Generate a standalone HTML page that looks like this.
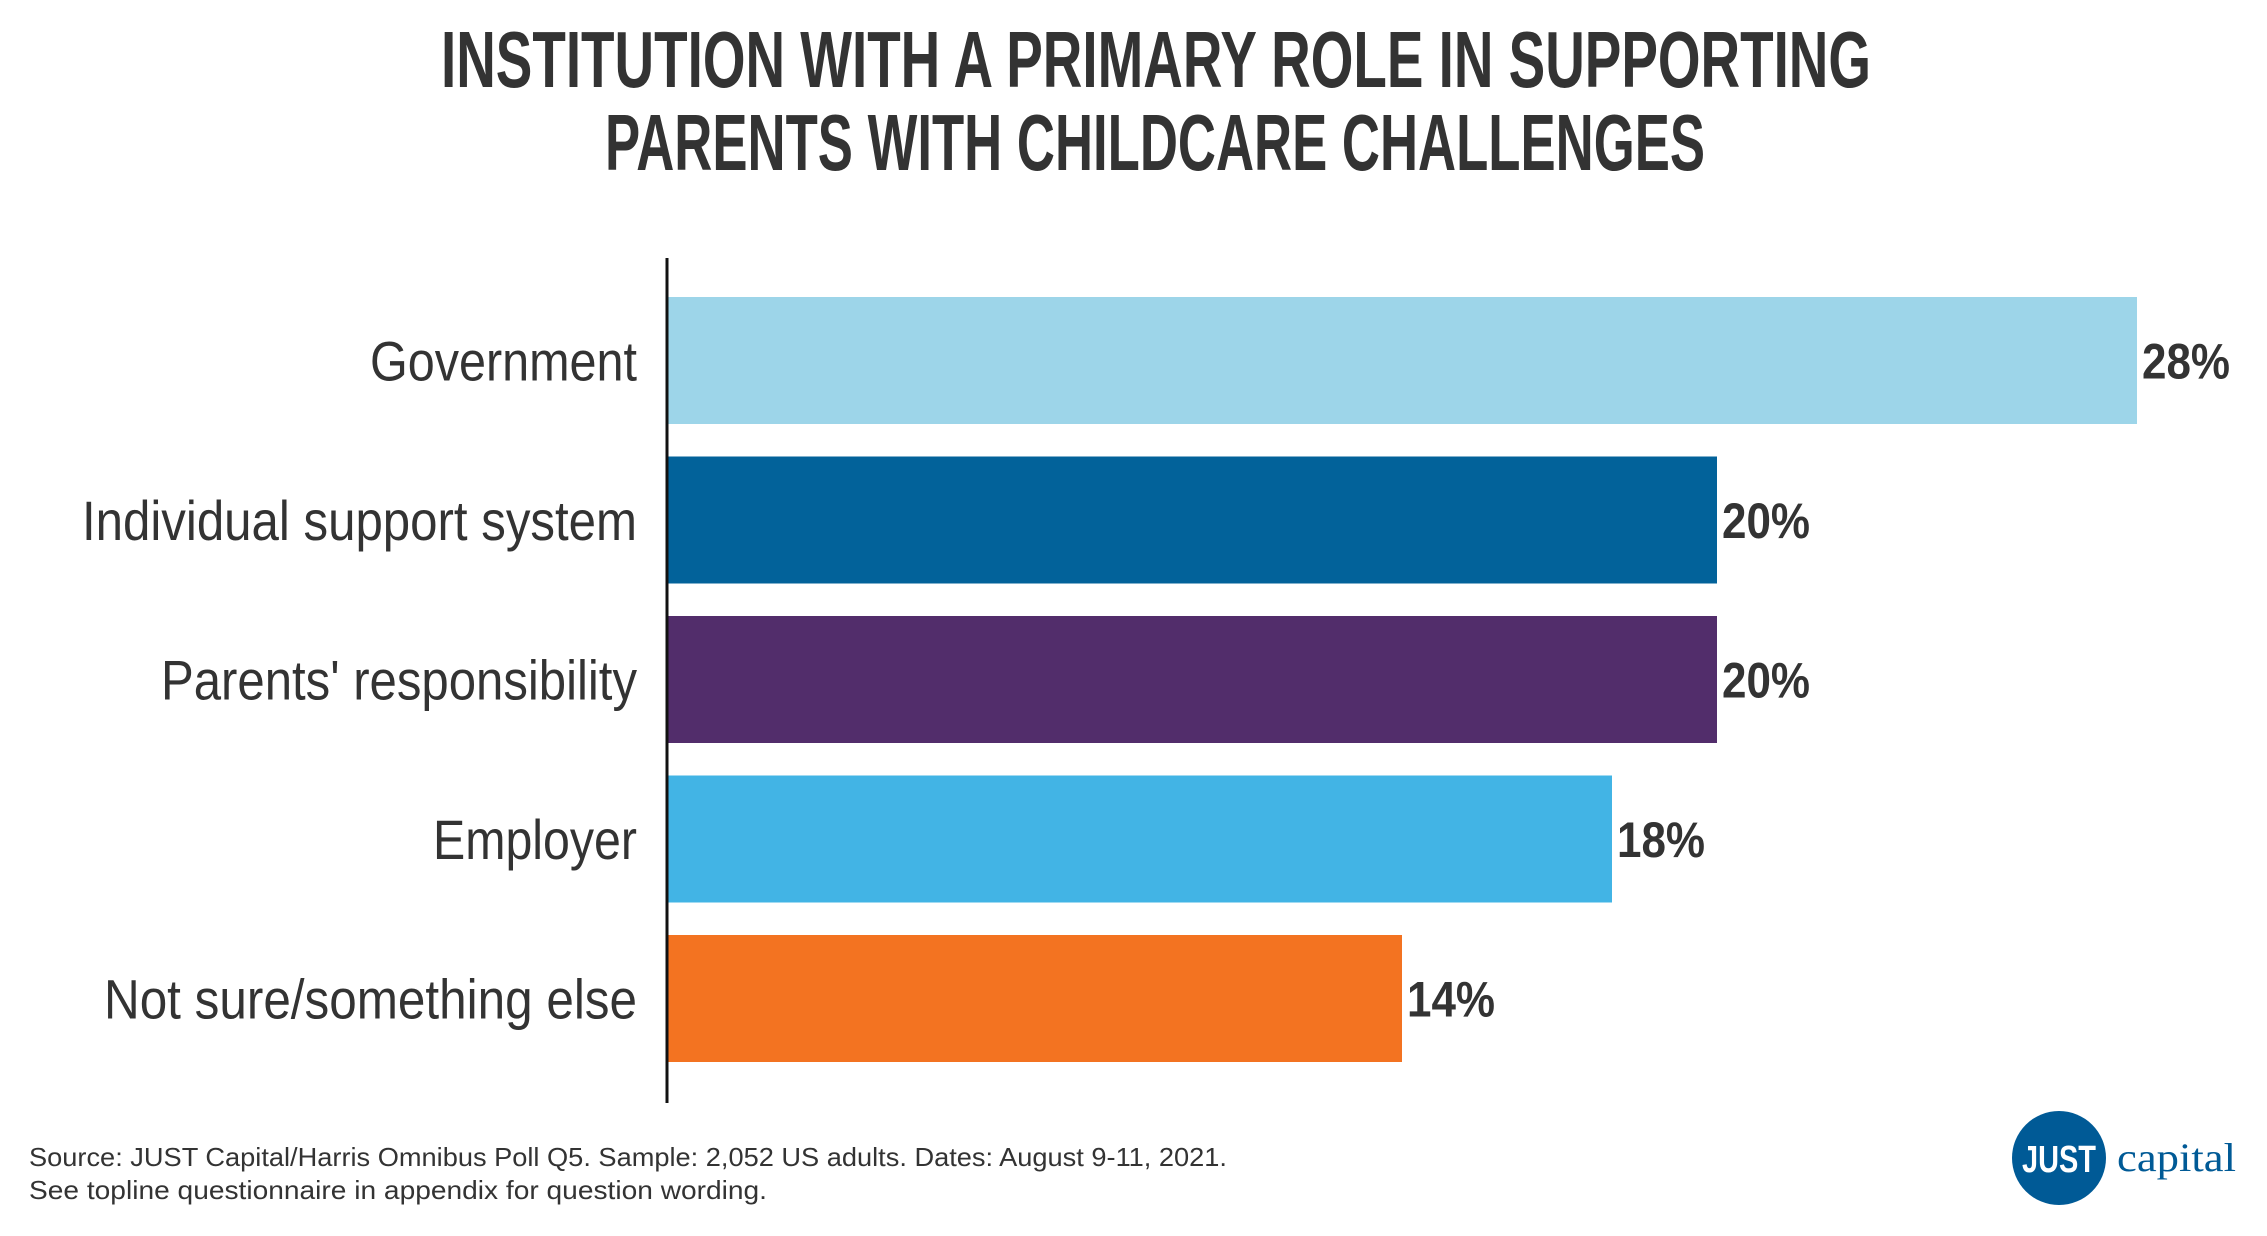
<!DOCTYPE html>
<html><head><meta charset="utf-8"><style>
html,body{margin:0;padding:0;background:#fff;}
svg{display:block;}
</style></head><body>
<svg id="chart" width="2267" height="1236" viewBox="0 0 2267 1236" xmlns="http://www.w3.org/2000/svg">
<g font-family="'Liberation Sans', sans-serif" font-weight="bold" fill="#333" font-size="80">
<text x="441" y="87" textLength="1430" lengthAdjust="spacingAndGlyphs">INSTITUTION WITH A PRIMARY ROLE IN SUPPORTING</text>
<text x="605" y="170" textLength="1100" lengthAdjust="spacingAndGlyphs">PARENTS WITH CHILDCARE CHALLENGES</text>
</g>
<g id="bars"></g>
<g id="labels"></g>
<g id="values"></g>
<line x1="667" y1="258" x2="667" y2="1103" stroke="#111" stroke-width="3"/>
<g font-family="'Liberation Sans', sans-serif" fill="#333" font-size="26">
<text x="29" y="1166" textLength="1198" lengthAdjust="spacingAndGlyphs">Source: JUST Capital/Harris Omnibus Poll Q5. Sample: 2,052 US adults. Dates: August 9-11, 2021.</text>
<text x="29" y="1199" textLength="738" lengthAdjust="spacingAndGlyphs">See topline questionnaire in appendix for question wording.</text>
</g>
<g>
<circle cx="2059" cy="1158" r="47" fill="#005a96"/>
<text x="2059" y="1172" text-anchor="middle" font-family="'Liberation Sans', sans-serif" font-weight="bold" font-size="38" fill="#fff" textLength="74" lengthAdjust="spacingAndGlyphs">JUST</text>
<text x="2117" y="1171" font-family="'Liberation Serif', serif" font-size="40" fill="#005a96" textLength="119" lengthAdjust="spacingAndGlyphs">capital</text>
</g>
</svg>
<script>
const categories = ["Government","Individual support system","Parents' responsibility","Employer","Not sure/something else"];
const values = [28,20,20,18,14];
const valueLabels = ["28%","20%","20%","18%","14%"];
const colors = ["#9dd5e9","#02629a","#522d6b","#42b4e5","#f37321"];
const labelWidths = [267,555,476,204,533];

const NS = "http://www.w3.org/2000/svg";
const x0 = 667, pxPerUnit = 52.5;
const yTop = 297, pitch = 159.5, barH = 127;
const xScale = v => x0 + v * pxPerUnit;
const yScale = i => yTop + i * pitch;
const gB = document.getElementById('bars');
const gL = document.getElementById('labels');
const gV = document.getElementById('values');
categories.forEach((c, i) => {
  const y = yScale(i);
  const r = document.createElementNS(NS, 'rect');
  r.setAttribute('x', x0);
  r.setAttribute('y', y);
  r.setAttribute('width', xScale(values[i]) - x0);
  r.setAttribute('height', barH);
  r.setAttribute('fill', colors[i]);
  
  
  gB.appendChild(r);

  const t = document.createElementNS(NS, 'text');
  t.setAttribute('x', 637);
  t.setAttribute('y', y + barH / 2 + 20);
  t.setAttribute('text-anchor', 'end');
  t.setAttribute('font-family', "'Liberation Sans', sans-serif");
  t.setAttribute('font-size', '56');
  t.setAttribute('fill', '#333');
  t.setAttribute('textLength', labelWidths[i]);
  t.setAttribute('lengthAdjust', 'spacingAndGlyphs');
  t.textContent = c;
  
  
  gL.appendChild(t);

  const v = document.createElementNS(NS, 'text');
  v.setAttribute('x', xScale(values[i]) + 5);
  v.setAttribute('y', y + barH / 2 + 18);
  v.setAttribute('font-family', "'Liberation Sans', sans-serif");
  v.setAttribute('font-weight', 'bold');
  v.setAttribute('font-size', '50');
  v.setAttribute('fill', '#333');
  v.setAttribute('textLength', 88);
  v.setAttribute('lengthAdjust', 'spacingAndGlyphs');
  v.textContent = valueLabels[i];
  
  
  gV.appendChild(v);
});
</script>
</body></html>
